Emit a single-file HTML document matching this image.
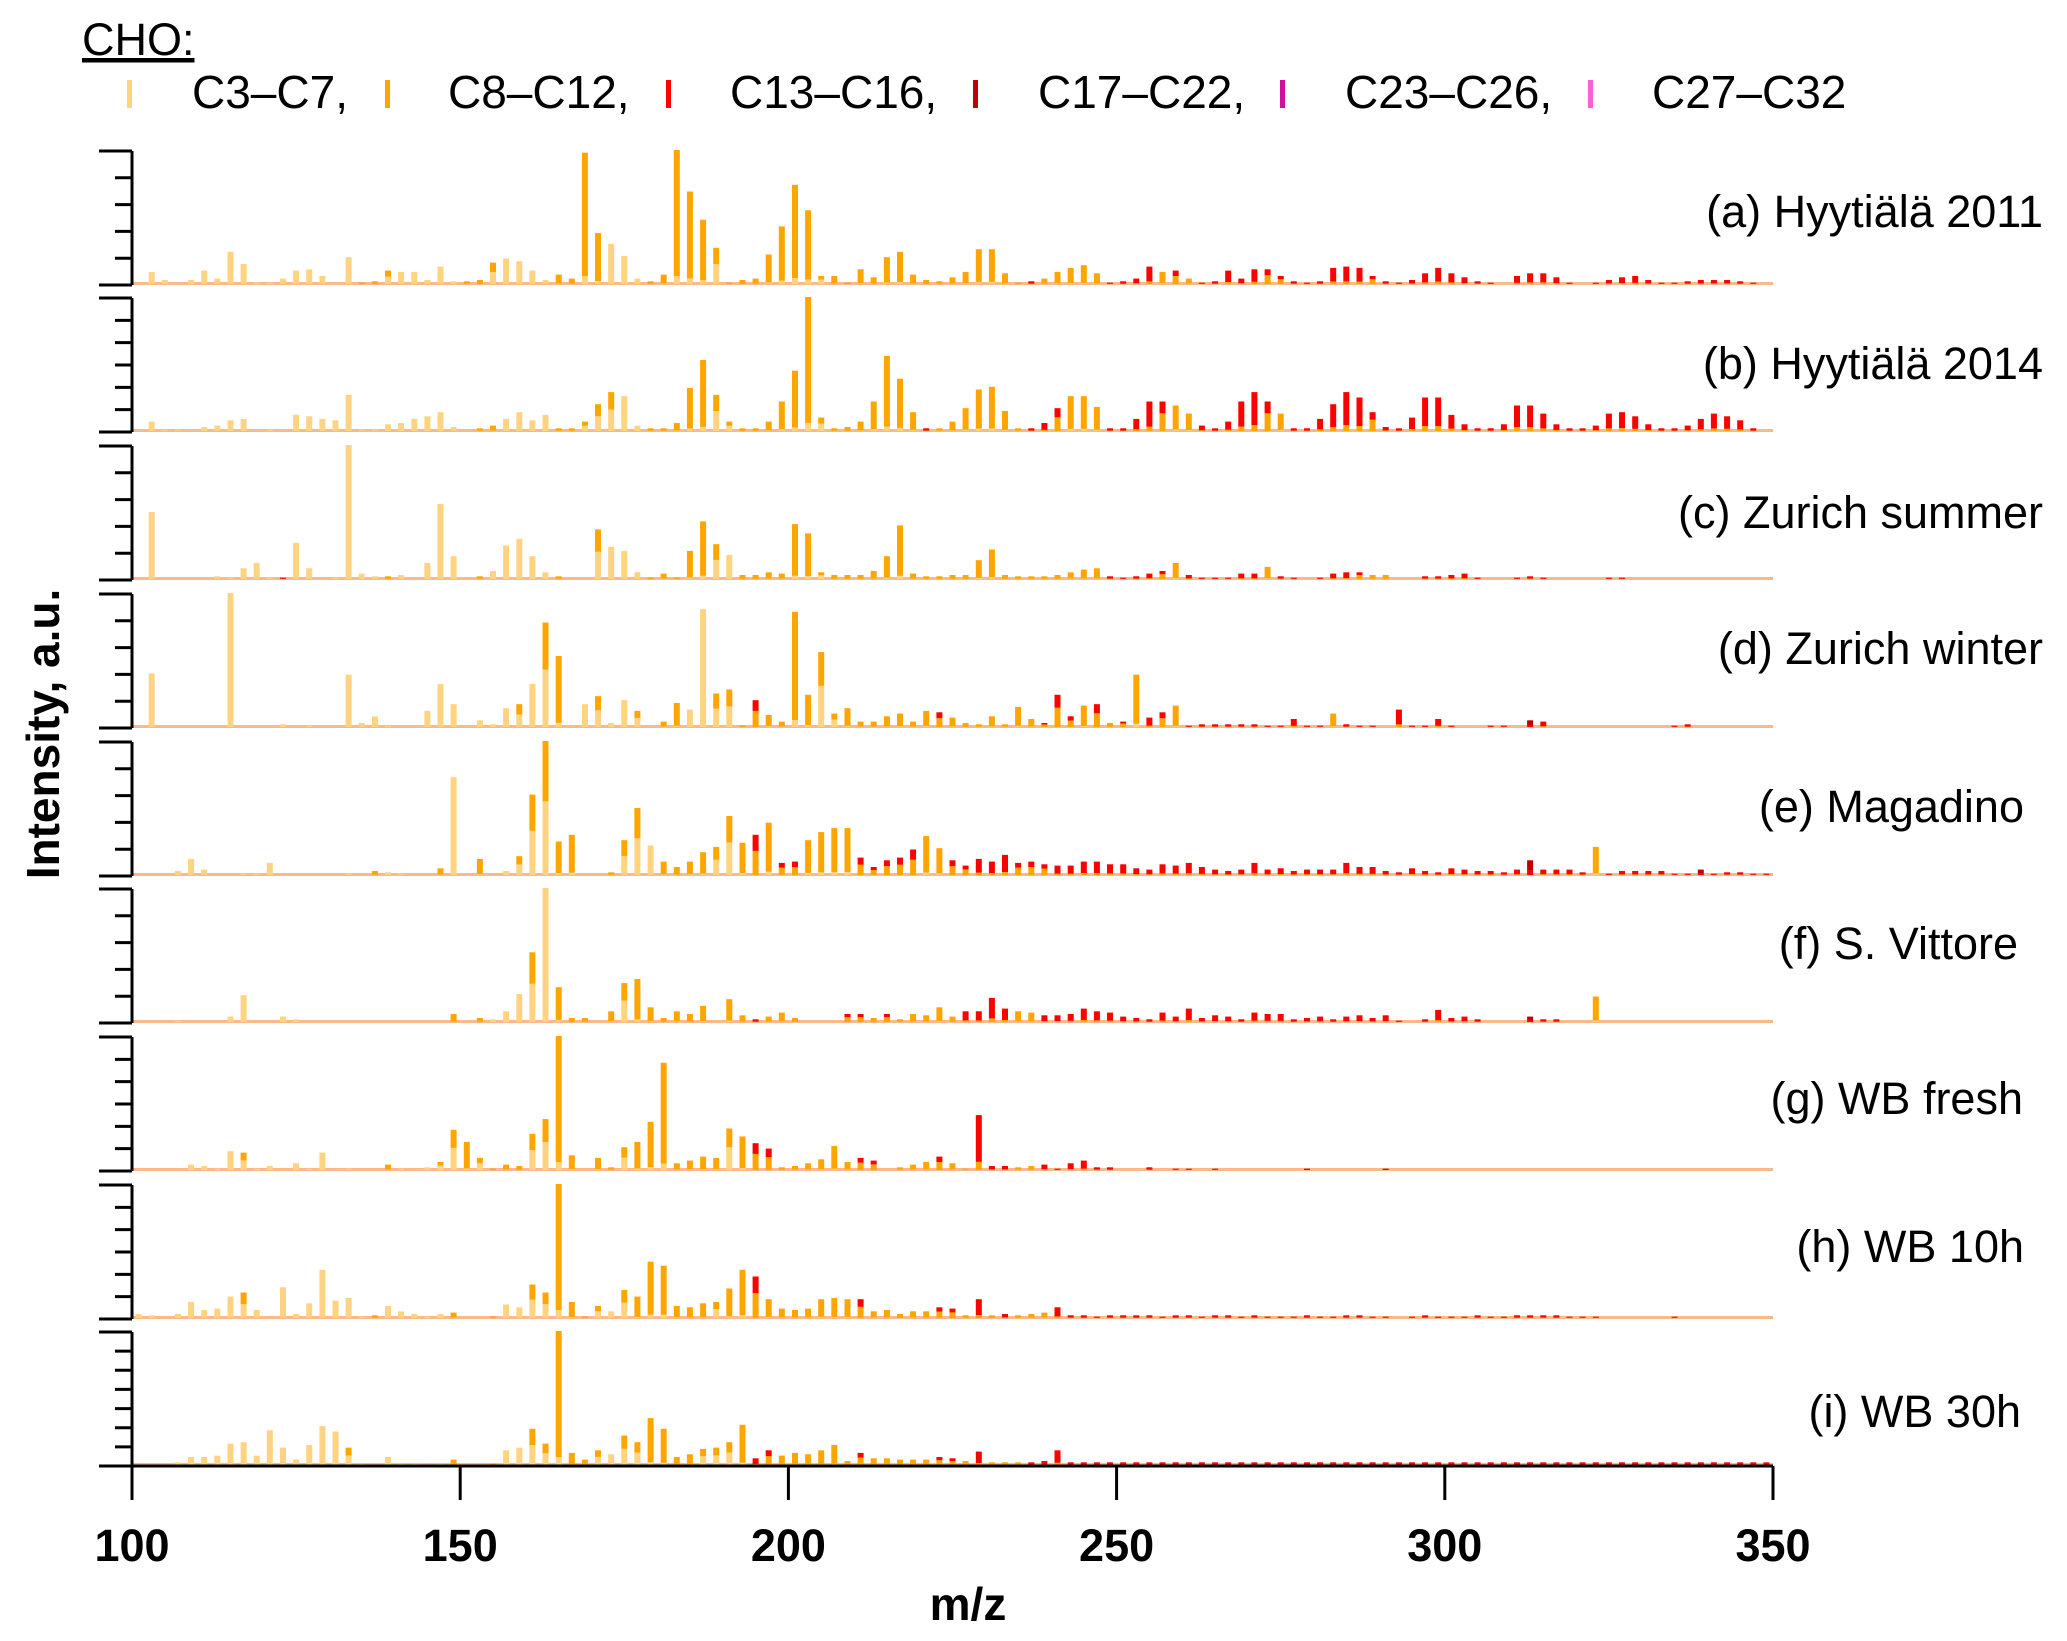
<!DOCTYPE html>
<html><head><meta charset="utf-8"><style>
html,body{margin:0;padding:0;background:#fff;}
svg{display:block;font-family:"Liberation Sans",Arial,sans-serif;}
</style></head><body>
<svg id="chart" width="2067" height="1641" viewBox="0 0 2067 1641" xmlns="http://www.w3.org/2000/svg">
<g>
<text x="82" y="55" font-size="45" text-decoration="underline">CHO:</text>
<rect x="127" y="80" width="5" height="28" fill="#ffd37f"/>
<text x="192" y="108" font-size="46">C3–C7,</text>
<rect x="385" y="80" width="5" height="28" fill="#ffa500"/>
<text x="448" y="108" font-size="46">C8–C12,</text>
<rect x="666" y="80" width="5" height="28" fill="#ff0000"/>
<text x="730" y="108" font-size="46">C13–C16,</text>
<rect x="973" y="80" width="5" height="28" fill="#c00000"/>
<text x="1038" y="108" font-size="46">C17–C22,</text>
<rect x="1280" y="80" width="5" height="28" fill="#d0109a"/>
<text x="1345" y="108" font-size="46">C23–C26,</text>
<rect x="1588" y="80" width="5" height="28" fill="#ff60d0"/>
<text x="1652" y="108" font-size="46">C27–C32</text>
</g>
<text transform="translate(59,734) rotate(-90)" text-anchor="middle" font-size="46" font-weight="bold">Intensity, a.u.</text>
<text x="968" y="1620" text-anchor="middle" font-size="46" font-weight="bold">m/z</text>
<g id="plots"></g>
</svg>
<script>
const xTicks=[100,150,200,250,300,350];
const panelNames=["(a) Hyytiälä 2011","(b) Hyytiälä 2014","(c) Zurich summer","(d) Zurich winter","(e) Magadino","(f) S. Vittore","(g) WB fresh","(h) WB 10h","(i) WB 30h"];
const panelA=[[103,9],[105,3],[109,3],[111,10],[113,4],[115,24],[117,15],[119,1],[121,1],[123,4],[125,10],[127,11],[129,6],[133,20],[135,1,'o'],[137,2,'o'],[139,10,'m'],[141,9],[143,9],[145,3],[147,13],[149,2],[151,2],[153,3],[155,16,'m'],[157,19,'l'],[159,17,'l'],[161,10,'l'],[163,3,'l'],[165,7],[167,4],[169,98],[171,38],[173,30,'l'],[175,21,'l'],[177,4,'l'],[179,2],[181,7],[183,100],[185,69],[187,48],[189,27,'m'],[191,1],[193,3],[195,4],[197,22],[199,43],[201,74],[203,55],[205,6,'m'],[207,6],[209,1],[211,11],[213,5],[215,20],[217,24],[219,7],[221,3],[223,2],[225,5],[227,9],[229,26],[231,26],[233,8],[235,1],[237,2],[239,4,'o'],[241,9,'o'],[243,12,'o'],[245,14,'o'],[247,8,'o'],[249,1],[251,2],[253,4],[255,13],[257,9,'o'],[259,10,'x'],[261,4,'o'],[263,1],[265,2],[267,10],[269,4],[271,11],[273,11,'x'],[275,6,'x'],[277,2],[279,1],[281,2],[283,12],[285,13],[287,12],[289,6,'x'],[291,2],[293,1],[295,3],[297,8],[299,12],[301,8],[303,5],[305,2],[307,1],[311,6],[313,8],[315,8],[317,5],[319,1],[323,1],[325,3],[327,5],[329,6],[331,3],[333,1],[335,1],[337,2],[339,3],[341,3],[343,3],[345,2],[347,1]];
const panelB=[[103,7],[105,1],[107,1],[111,3],[113,4],[115,8],[117,9],[121,1],[125,12],[127,11],[129,9],[131,8],[133,27],[135,1],[137,1],[139,5],[141,6],[143,9],[145,11],[147,14],[149,3],[153,2],[155,4,'o'],[157,9,'l'],[159,14,'l'],[161,8,'l'],[163,12,'l'],[165,2],[167,2],[169,7,'m'],[171,20,'m'],[173,29,'m'],[175,26,'l'],[177,4,'l'],[179,2],[181,2],[183,6],[185,32],[187,53],[189,27,'m'],[191,7,'m'],[193,2],[195,2],[197,7],[199,22],[201,45],[203,100],[205,10,'m'],[207,2],[209,3],[211,7],[213,22],[215,56],[217,39],[219,14],[221,2,'r'],[223,2],[225,7],[227,17],[229,31],[231,33],[233,15],[235,2],[237,2],[239,6],[241,17,'x'],[243,26,'o'],[245,26,'o'],[247,18,'o'],[249,2],[251,2],[253,9],[255,22],[257,22,'x'],[259,19,'o'],[261,13,'o'],[263,4],[265,2],[267,7],[269,22],[271,29],[273,22,'x'],[275,13,'o'],[277,2],[279,2],[281,9],[283,20],[285,29],[287,25],[289,14,'x'],[291,3],[293,2],[295,10],[297,25],[299,25],[301,12],[303,5],[305,2],[307,2],[309,5],[311,19],[313,19],[315,13],[317,5],[319,2],[321,2],[323,4],[325,13],[327,14],[329,11],[331,5],[333,2],[335,2],[337,4],[339,9],[341,13],[343,11],[345,8],[347,2]];
const panelC=[[103,50],[113,2],[115,1],[117,8],[119,12],[121,1],[123,1,'r'],[125,27],[127,8],[131,1],[133,100],[135,4],[137,2],[139,2,'o'],[141,3],[145,12],[147,56],[149,17],[153,2],[155,6,'l'],[157,25,'l'],[159,30,'l'],[161,17,'l'],[163,5,'l'],[165,2],[171,37,'m'],[173,24,'l'],[175,21,'l'],[177,5,'l'],[179,1],[181,4],[183,1],[185,21],[187,43],[189,26,'m'],[191,18,'l'],[193,3],[195,3],[197,5],[199,4],[201,41],[203,34],[205,5,'m'],[207,3],[209,3],[211,3],[213,6],[215,17],[217,40],[219,4],[221,2],[223,2],[225,3],[227,3],[229,14],[231,22],[233,3],[235,2],[237,2,'o'],[239,2,'o'],[241,3,'o'],[243,5,'o'],[245,7,'o'],[247,8,'o'],[249,2],[251,1],[253,2],[255,4],[257,6,'x'],[259,12,'o'],[261,3],[263,1],[265,1],[267,1],[269,4],[271,4],[273,9,'o'],[275,2],[277,1],[281,1],[283,4],[285,5],[287,5,'x'],[289,3,'o'],[291,3,'o'],[297,2],[299,2],[301,3],[303,4],[305,1],[311,1],[313,2],[315,1],[325,1],[327,1]];
const panelD=[[103,40],[115,100],[123,2],[127,1],[133,39],[135,3],[137,8],[139,1],[145,12],[147,32],[149,17],[153,5,'l'],[155,2,'l'],[157,14,'l'],[159,17,'m'],[161,32,'l'],[163,78,'m'],[165,53],[169,17,'l'],[171,23,'m'],[173,3,'l'],[175,20,'l'],[177,12,'m'],[181,4],[183,18],[185,13,'l'],[187,88,'l'],[189,25,'m'],[191,28,'m'],[193,1],[195,20,'x'],[197,9],[199,4],[201,86],[203,24],[205,56,'m'],[207,10,'m'],[209,14],[211,4],[213,4],[215,8],[217,10],[219,4],[221,12],[223,11,'x'],[225,7],[227,3],[229,2],[231,8],[233,2],[235,15],[237,6,'o'],[239,3,'x'],[241,24,'x'],[243,8,'x'],[245,16,'o'],[247,17,'x'],[249,3,'o'],[251,4,'x'],[253,39,'o'],[255,7],[257,11,'x'],[259,16,'o'],[261,1],[263,2],[265,2],[267,2],[269,2],[271,2],[273,1],[275,1],[277,6],[279,1],[281,1],[283,10,'o'],[285,2],[287,1],[289,1],[293,13],[295,1],[297,1],[299,6],[301,1],[307,1],[309,1],[313,5,'d'],[315,4],[335,1],[337,2]];
const panelE=[[107,3],[109,12],[111,4],[117,1],[119,1],[121,9],[133,1],[137,3,'o'],[139,2],[141,1],[147,5,'o'],[149,73],[153,12],[157,3,'l'],[159,14,'m'],[161,60,'m'],[163,100,'m'],[165,25],[167,30],[173,2],[175,26,'m'],[177,50,'m'],[179,22,'l'],[181,10],[183,6],[185,10],[187,17],[189,21,'m'],[191,44,'m'],[193,24],[195,30,'x'],[197,39],[199,9,'x'],[201,10,'x'],[203,26],[205,32],[207,35],[209,35],[211,13,'x'],[213,6,'x'],[215,11,'x'],[217,13,'x'],[219,19,'x'],[221,29],[223,20],[225,11,'x'],[227,7,'x'],[229,12,'r'],[231,10,'r'],[233,15,'r'],[235,9,'x'],[237,10,'x'],[239,8,'x'],[241,7],[243,7],[245,10],[247,10],[249,8],[251,8],[253,5],[255,4],[257,8],[259,7],[261,9],[263,6],[265,4],[267,3],[269,4],[271,9],[273,4],[275,5],[277,3],[279,4],[281,4],[283,4],[285,9],[287,6],[289,6],[291,3],[293,2],[295,5],[297,3],[299,2],[301,5],[303,4],[305,3],[307,3],[309,2],[311,4],[313,11,'d'],[315,4],[317,4],[319,4],[321,2],[323,21,'o'],[325,1],[327,3],[329,3],[331,3],[333,3],[335,1],[337,1],[339,4,'d'],[341,1],[343,2],[345,2],[347,1],[349,1]];
const panelF=[[107,1],[115,4],[117,20],[123,4],[125,2],[149,6,'o'],[153,3,'o'],[155,2,'l'],[157,8,'l'],[159,21,'l'],[161,52,'m'],[163,100,'l'],[165,26],[167,3],[169,3],[173,8],[175,29,'m'],[177,32],[179,11],[181,3],[183,8],[185,6],[187,12],[191,17],[193,5],[195,2,'r'],[197,4],[199,7],[201,3],[209,6,'x'],[211,6,'x'],[213,3],[215,6,'x'],[217,2],[219,6],[221,5],[223,11],[225,4],[227,8,'r'],[229,8,'r'],[231,18,'r'],[233,10,'r'],[235,8,'o'],[237,7,'o'],[239,5],[241,5],[243,6],[245,10],[247,8],[249,7],[251,4],[253,3],[255,2],[257,7],[259,4],[261,10],[263,3],[265,5],[267,4],[269,2],[271,7],[273,6],[275,6],[277,2],[279,3],[281,4],[283,2],[285,4],[287,5],[289,3],[291,5],[293,1],[297,2],[299,9],[301,3],[303,4],[305,2],[313,4,'d'],[315,2],[317,2],[323,19,'o']];
const panelG=[[109,4],[111,3],[113,1],[115,14],[117,13,'m'],[119,1],[121,3],[125,5],[127,1],[129,13],[133,1],[139,4,'o'],[141,1],[145,2],[147,6,'m'],[149,30,'m'],[151,21],[153,9,'m'],[155,1],[157,4],[159,3],[161,27,'m'],[163,38,'m'],[165,100],[167,11],[171,9],[173,2],[175,17,'m'],[177,21],[179,36],[181,80],[183,5],[185,7],[187,10],[189,9],[191,31,'m'],[193,25],[195,20,'x'],[197,16,'x'],[199,2],[201,3],[203,5],[205,8],[207,18],[209,6],[211,9,'x'],[213,7,'x'],[217,2],[219,4],[221,6],[223,10,'x'],[225,5],[227,1],[229,41,'r'],[231,3,'r'],[233,3,'r'],[235,2],[237,3,'o'],[239,4],[241,1],[243,5],[245,7],[247,2],[249,2],[255,2],[259,1],[261,1],[265,1],[279,1,'d'],[291,1,'d']];
const panelH=[[101,3],[103,2],[107,3],[109,12],[111,6],[113,7],[115,16],[117,19,'m'],[119,6],[123,23],[125,3],[127,11],[129,36],[131,13],[133,15,'l'],[135,1],[137,2,'o'],[139,9],[141,5],[143,3],[145,1],[147,3],[149,4,'o'],[155,1],[157,10,'l'],[159,8,'l'],[161,25,'m'],[163,19,'m'],[165,100],[167,12],[169,1],[171,9,'m'],[173,5,'l'],[175,21,'m'],[177,16],[179,42],[181,39],[183,9],[185,8],[187,11],[189,12,'m'],[191,22],[193,36],[195,31,'x'],[197,14],[199,7],[201,6],[203,7],[205,14],[207,15],[209,14],[211,14,'x'],[213,5],[215,6],[217,3],[219,5],[221,5],[223,8,'x'],[225,7,'x'],[227,2],[229,14,'r'],[231,2],[233,3,'r'],[235,2],[237,3,'o'],[239,4,'o'],[241,8],[243,2],[245,2],[247,1],[249,2],[251,2],[253,2],[255,2],[257,1],[259,2],[261,2],[263,1],[265,2],[267,2],[269,1],[271,2],[273,1],[275,1],[277,1],[279,2],[281,1],[283,1],[285,2],[287,2],[289,1],[291,1],[295,1],[297,2],[299,1],[301,1],[303,1],[305,2],[307,1],[309,1],[311,2],[313,2],[315,2],[317,2],[319,1],[321,1],[323,1],[335,1]];
const panelI=[[107,2],[109,6],[111,6],[113,7],[115,16],[117,17],[119,7],[121,26],[123,13],[125,4],[127,15],[129,29],[131,25],[133,13,'m'],[135,1],[139,6],[141,1],[143,1],[147,1],[149,4,'o'],[155,1],[157,11,'l'],[159,13,'l'],[161,27,'m'],[163,16,'m'],[165,100],[167,9],[169,4],[171,11,'m'],[173,8,'l'],[175,22,'m'],[177,17,'m'],[179,35],[181,27],[183,6],[185,8],[187,12,'m'],[189,13,'m'],[191,17,'m'],[193,30],[195,5,'r'],[197,11,'x'],[199,7],[201,9],[203,8],[205,11],[207,15],[209,3],[211,9,'x'],[213,5],[215,5],[217,4],[219,4],[221,4],[223,6,'x'],[225,5,'x'],[227,3],[229,10,'r'],[231,2],[233,2],[235,2],[237,2],[239,3],[241,11],[243,2],[245,2],[247,2],[249,2],[251,2],[253,2],[255,2],[257,2],[259,2],[261,2],[263,2],[265,2],[267,2],[269,2],[271,2],[273,2],[275,2],[277,2],[279,2],[281,2],[283,2],[285,2],[287,2],[289,2],[291,2],[293,2],[295,2],[297,2],[299,2],[301,2],[303,2],[305,2],[307,2],[309,2],[311,2],[313,2],[315,2],[317,2],[319,2],[321,2],[323,2],[325,2],[327,2],[329,2],[331,2],[333,2],[335,2],[337,2],[339,2],[341,2],[343,2],[345,2],[347,2],[349,2]];
const panels=[panelA,panelB,panelC,panelD,panelE,panelF,panelG,panelH,panelI];
const baselines=[285,432,580,728,876,1023,1171,1319,1466];
const labelY=[212,364,513,649,807,944,1099,1247,1412];
const labelX=[2043,2043,2043,2043,2024,2018,2023,2024,2021];
const yTickCounts=[5,6,5,5,5,5,6,6,7];

const NS="http://www.w3.org/2000/svg";
const PH=134, X0=132, XPX=(1773-132)/250, BW=6;
function X(mz){return X0+(mz-100)*XPX;}
function H(v){return v/100*PH;}
const COL={l:"#ffd37f",o:"#ffa500",r:"#ff0000",d:"#c00000"};
function mk(tag,attrs,parent){const e=document.createElementNS(NS,tag);for(const k in attrs)e.setAttribute(k,attrs[k]);parent.appendChild(e);return e;}
function defCls(mz){return mz<150?'l':(mz<=235?'o':'r');}
function segs(c){
  if(c==='l')return[['l',1]];
  if(c==='o')return[['l',0.06],['o',0.94]];
  if(c==='m')return[['l',0.55],['o',0.45]];
  if(c==='x')return[['o',0.6],['r',0.4]];
  if(c==='r')return[['o',0.15],['r',0.85]];
  if(c==='d')return[['r',0.3],['d',0.7]];
  return[['o',1]];
}
const root=document.getElementById('plots');
panels.forEach((data,pi)=>{
  const g=mk('g',{},root);
  
  
  const b=baselines[pi], top=b-PH;
  const base=mk('rect',{x:X0,y:b-3,width:1773-X0,height:3,fill:"#f9b98a"},g);
  
  
  data.forEach(d=>{
    const mz=d[0], v=d[1], c=d[2]||defCls(mz);
    let y=b-1;
    const bg=mk('g',{},g);
    
    
    segs(c).forEach(s=>{
      const hh=H(v)*s[1];
      mk('rect',{x:(X(mz)-BW/2).toFixed(1),y:(y-hh).toFixed(1),width:BW,height:hh.toFixed(1),fill:COL[s[0]]},bg);
      y-=hh;
    });
  });
  const ax=mk('line',{x1:X0,y1:top,x2:X0,y2:b,stroke:"#000","stroke-width":3},g);
  
  
  const n=yTickCounts[pi];
  for(let i=0;i<=n;i++){
    const ty=b-i*PH/n, big=(i===0||i===n);
    const t=mk('line',{x1:big?99:115,y1:ty,x2:X0,y2:ty,stroke:"#000","stroke-width":3},g);
    
    
  }
  const lb=mk('text',{x:labelX[pi],y:labelY[pi]+15,"text-anchor":"end","font-size":45},g);
  lb.textContent=panelNames[pi];
  
  
});
const lastB=baselines[8];
const xa=mk('line',{x1:X0,y1:lastB,x2:1773,y2:lastB,stroke:"#000","stroke-width":3},root);


xTicks.forEach(t=>{
  const l=mk('line',{x1:X(t),y1:lastB,x2:X(t),y2:lastB+34,stroke:"#000","stroke-width":3},root);
  
  
  const tx=mk('text',{x:X(t),y:1561,"text-anchor":"middle","font-size":45,"font-weight":"bold"},root);
  tx.textContent=t;
  
  
});
</script>
</body></html>
